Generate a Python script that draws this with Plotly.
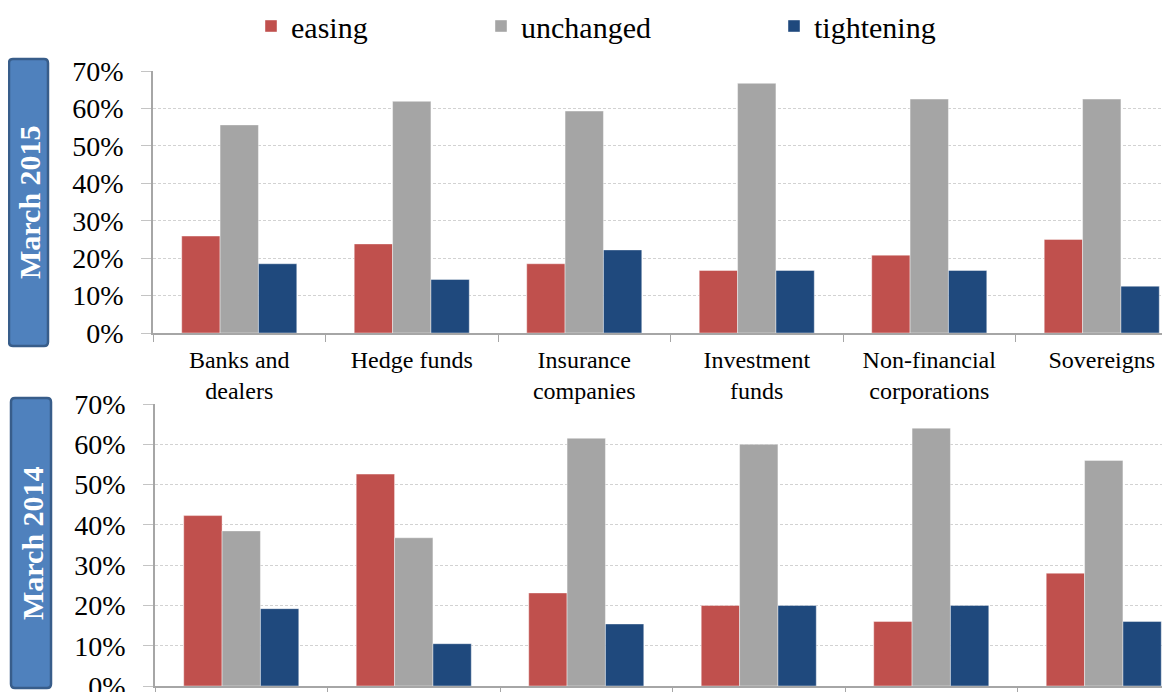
import plotly.graph_objects as go

# ---------------- data ----------------
categories = ["Banks and<br>dealers", "Hedge funds", "Insurance<br>companies",
              "Investment<br>funds", "Non-financial<br>corporations", "Sovereigns"]
series_names = ["easing", "unchanged", "tightening"]

easing_2015 = [25.9, 23.8, 18.5, 16.7, 20.8, 25.0]
unchanged_2015 = [55.6, 61.9, 59.3, 66.7, 62.5, 62.5]
tightening_2015 = [18.5, 14.3, 22.2, 16.7, 16.7, 12.5]

easing_2014 = [42.3, 52.6, 23.1, 20.0, 16.0, 28.0]
unchanged_2014 = [38.5, 36.8, 61.5, 60.0, 64.0, 56.0]
tightening_2014 = [19.2, 10.5, 15.4, 20.0, 20.0, 16.0]

panel_labels = ["March 2015", "March 2014"]
y_tick_values = [0, 10, 20, 30, 40, 50, 60, 70]
y_tick_labels = [f"{v}%" for v in y_tick_values]

# ---------------- style ----------------
PAGE_W, PAGE_H = 1170, 692
OFF = 8  # default page body margin
W, H = PAGE_W - OFF, PAGE_H - OFF
colors = ["#C0504D", "#A5A5A5", "#1F497D"]
serif = "Liberation Serif"

def px_x(p):
    return (p - OFF) / W

def px_y(p):
    return (H - (p - OFF)) / H

fig = go.Figure()

panels = [
    (panel_labels[0], [easing_2015, unchanged_2015, tightening_2015], "x", "y", True),
    (panel_labels[1], [easing_2014, unchanged_2014, tightening_2014], "x2", "y2", False),
]
legend_ids = ["legend", "legend2", "legend3"]
for label, series, xa, ya, show in panels:
    for i, (name, vals) in enumerate(zip(series_names, series)):
        fig.add_trace(go.Bar(
            x=categories, y=vals, name=name,
            marker=dict(color=colors[i], line=dict(width=0.6, color="rgba(255,255,255,0.7)")),
            xaxis=xa, yaxis=ya,
            showlegend=show, legend=legend_ids[i],
            hoverinfo="skip",
        ))

yaxis_common = dict(
    range=[0, 70], tickmode="array", tickvals=y_tick_values, ticktext=y_tick_labels,
    showgrid=True, gridcolor="#D2D2D2", griddash="3px,2px", gridwidth=1,
    showline=True, linecolor="#A6A6A6", linewidth=1.5,
    ticks="outside", ticklen=10, tickcolor="#C4C4C4",
    zeroline=False, ticklabelstandoff=12, automargin=False,
    ticklabeloverflow="allow",
    tickfont=dict(family=serif, size=28, color="#000000"),
)
xaxis_common = dict(
    type="category", showline=True, linecolor="#A6A6A6", linewidth=1.5,
    ticks="outside", ticklen=7, tickcolor="#A6A6A6", tickson="boundaries",
    showgrid=False, zeroline=False, automargin=False,
    tickfont=dict(family=serif, size=24, color="#000000"),
)

# page-pixel layout: top axis x=153, 0% at y=333, 70% at y=71
# category pitch 172.5 px -> plot extends past the right edge
top_x0 = 153
bot_x0 = 155
pitch = 172.5
fig.update_layout(
    width=W, height=H,
    margin=dict(l=0, r=0, t=0, b=0, autoexpand=False),
    paper_bgcolor="white", plot_bgcolor="white",
    barmode="group", bargap=0.333, bargroupgap=0,
    xaxis=dict(xaxis_common, domain=[px_x(top_x0), 1], anchor="y",
               range=[-0.5, -0.5 + (PAGE_W - top_x0) / pitch], ticklabelstandoff=4),
    yaxis=dict(yaxis_common, domain=[px_y(333), px_y(71)], anchor="x"),
    xaxis2=dict(xaxis_common, domain=[px_x(bot_x0), 1], anchor="y2",
                range=[-0.5, -0.5 + (PAGE_W - bot_x0) / pitch], showticklabels=False),
    yaxis2=dict(yaxis_common, domain=[px_y(686), px_y(404)], anchor="x2"),
)

legend_common = dict(
    orientation="h", yanchor="middle", xanchor="left",
    bgcolor="rgba(0,0,0,0)", borderwidth=0,
    font=dict(family=serif, size=30, color="#000000"),
    y=px_y(26),
)
fig.update_layout(
    legend=dict(legend_common, x=px_x(251)),
    legend2=dict(legend_common, x=px_x(481)),
    legend3=dict(legend_common, x=px_x(774)),
)

# panel label boxes
def rounded_rect(x0, y0, x1, y1, r=4):
    X = lambda v: f"{px_x(v):.5f}"
    Y = lambda v: f"{px_y(v):.5f}"
    return (f"M {X(x0 + r)},{Y(y0)} L {X(x1 - r)},{Y(y0)} "
            f"Q {X(x1)},{Y(y0)} {X(x1)},{Y(y0 + r)} L {X(x1)},{Y(y1 - r)} "
            f"Q {X(x1)},{Y(y1)} {X(x1 - r)},{Y(y1)} L {X(x0 + r)},{Y(y1)} "
            f"Q {X(x0)},{Y(y1)} {X(x0)},{Y(y1 - r)} L {X(x0)},{Y(y0 + r)} "
            f"Q {X(x0)},{Y(y0)} {X(x0 + r)},{Y(y0)} Z")

boxes = [(9, 59, 48, 346), (11, 398, 51, 688)]
for (bx0, by0, bx1, by1), label in zip(boxes, panel_labels):
    fig.add_shape(type="path", xref="paper", yref="paper",
                  path=rounded_rect(bx0, by0, bx1, by1),
                  fillcolor="#4F81BD", line=dict(color="#385D8A", width=2.5))
    fig.add_annotation(xref="paper", yref="paper",
                       x=px_x((bx0 + bx1) / 2 + 1), y=px_y((by0 + by1) / 2),
                       text=f"<b>{label}</b>", textangle=-90, showarrow=False,
                       font=dict(family=serif, size=30, color="white"),
                       xanchor="center", yanchor="middle")

fig.write_html("out.html")
